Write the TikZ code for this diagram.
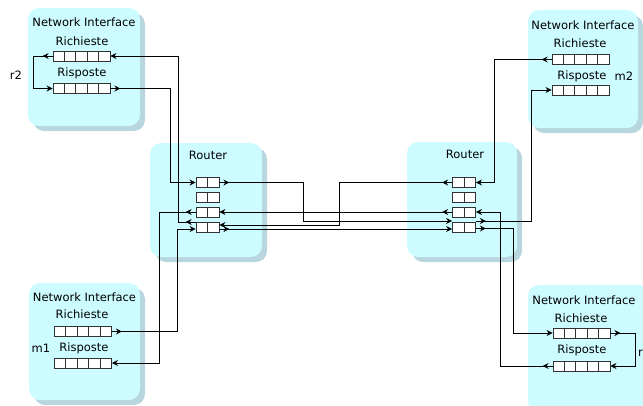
\documentclass[tikz,border=0pt]{standalone}
\usepackage{fontspec}
\setmainfont{DejaVu Sans}
\usetikzlibrary{arrows.meta,decorations.markings,calc,shadows}
\definecolor{boxfill}{RGB}{204,252,255}
\definecolor{boxshadow}{RGB}{184,214,222}
\definecolor{qline}{RGB}{50,50,50}
\begin{document}
\begin{tikzpicture}[x=1pt,y=-1pt,
  panel/.style={fill=boxfill, draw=none, rounded corners=11pt, inner sep=0pt,
    drop shadow={shadow xshift=5pt, shadow yshift=-5pt, fill=boxshadow, opacity=1}},
  lbl/.style={font=\fontsize{11.5}{13}\selectfont, inner sep=0pt},
  niq/.style={draw=qline, fill=white, line width=0.9pt, minimum width=57pt, minimum height=10pt, inner sep=0pt,
    path picture={\foreach \k in {1,2,3,4}{\draw[qline,line width=0.9pt]
      ($(path picture bounding box.south west)!\k/5!(path picture bounding box.south east)$) -- ++(0,20pt);}}},
  rtq/.style={draw=qline, fill=white, line width=0.9pt, minimum width=23pt, minimum height=10pt, inner sep=0pt,
    path picture={\draw[qline,line width=0.9pt]
      (path picture bounding box.south) -- (path picture bounding box.north);}},
  conn/.style={draw=black, line width=0.9pt, -{Stealth[length=6pt,width=6pt]}},
  outarr/.style={postaction={decorate, decoration={markings,
      mark=at position #1 with {\arrow{Stealth[length=6pt,width=6pt]}}}}},
  outarr/.default=10pt
]
\useasboundingbox (0,0) rectangle (643,405);
\clip (0,0) rectangle (643,405);

% panels
\node[panel, minimum width=112pt, minimum height=118pt] (tl) at (84,67) {};
\node[panel, minimum width=112pt, minimum height=114pt] (lr) at (206,200) {};
\node[panel, minimum width=110pt, minimum height=115pt] (rr) at (462,199.5) {};
\node[panel, minimum width=110pt, minimum height=118pt] (tr) at (583,69) {};
\node[panel, minimum width=111pt, minimum height=117pt] (bl) at (84.5,341.5) {};
\node[panel, minimum width=127pt, minimum height=127pt] (br) at (591.5,348.5) {};

% texts
\node[lbl] (tlt) at (84,22) {Network Interface};
\node[lbl] (tlrql) at (82,41) {Richieste};
\node[lbl] (tlrsl) at (82,73) {Risposte};
\node[lbl] (r2) at (16,75) {r2};

\node[lbl] (trt) at (583,25) {Network Interface};
\node[lbl] (trrql) at (580,43) {Richieste};
\node[lbl] (trrsl) at (582,76) {Risposte};
\node[lbl] (m2) at (624,76) {m2};

\node[lbl] (blt) at (84.5,297) {Network Interface};
\node[lbl] (blrql) at (82,314) {Richieste};
\node[lbl] (m1) at (41,348) {m1};
\node[lbl] (blrsl) at (84,348) {Risposte};

\node[lbl] (brt) at (584,300) {Network Interface};
\node[lbl] (brrql) at (581,318) {Richieste};
\node[lbl] (brrsl) at (582,350) {Risposte};
\node[lbl, anchor=west] (r1) at (638,352) {r1};

\node[lbl] (lrt) at (208,155) {Router};
\node[lbl] (rrt) at (465,154) {Router};

% queues
\node[niq] (tlrq) at (81.5,56) {};
\node[niq] (tlrs) at (81.5,88.5) {};
\node[niq] (trrq) at (580.5,59.5) {};
\node[niq] (trrs) at (580.5,90) {};
\node[niq] (blrq) at (83,331.5) {};
\node[niq] (blrs) at (83,363) {};
\node[niq] (brrq) at (581.5,333) {};
\node[niq] (brrs) at (581.5,366) {};

\node[rtq] (lr1) at (207.5,182.5) {};
\node[rtq] (lr2) at (207.5,197.5) {};
\node[rtq] (lr3) at (207.5,212) {};
\node[rtq] (lr4) at (207.5,227) {};
\node[rtq] (rr1) at (464,182.5) {};
\node[rtq] (rr2) at (464,197.5) {};
\node[rtq] (rr3) at (464,212) {};
\node[rtq] (rr4) at (464,227) {};

% connectors: top-left interface
\draw[conn, outarr] (tlrq.west) -- ++(-19,0) |- (tlrs.west);
\draw[conn, outarr] (tlrs.east) -| ([xshift=-25pt]lr1.west) -- (lr1.west);
\draw[conn, outarr] ([yshift=5pt]lr4.west) -| ([xshift=68pt]tlrq.east) -- (tlrq.east);

% between routers
\draw[conn, outarr] (lr1.east) -- ++(84,0) |- ([yshift=6pt]rr4.west);
\draw[conn, outarr] (rr1.west) -- ++(-113,0) |- ([yshift=2pt]lr4.east);
\draw[conn, outarr] (rr3.west) -- (lr3.east);
\draw[conn, outarr] ([yshift=-2pt]lr4.east) -- ([yshift=-2pt]rr4.west);

% bottom-left interface
\draw[conn, outarr] (lr3.west) -| ([xshift=47pt]blrs.east) -- (blrs.east);
\draw[conn, outarr] (blrq.east) -| ([xshift=-18pt,yshift=-2pt]lr4.west) -- ([yshift=-2pt]lr4.west);

% top-right interface
\draw[conn, outarr] (trrq.west) -| ([xshift=18pt]rr1.east) -- (rr1.east);
\draw[conn, outarr] ([yshift=6pt]rr4.east) -| ([xshift=-20pt]trrs.west) -- (trrs.west);

% bottom-right interface
\draw[conn, outarr] (brrs.west) -| ([xshift=24pt]rr3.east) -- (rr3.east);
\draw[conn, outarr] ([yshift=-1.5pt]rr4.east) -| ([xshift=-39pt]brrq.west) -- (brrq.west);
\draw[conn, outarr] (brrq.east) -- ++(25,0) |- (brrs.east);
\end{tikzpicture}
\end{document}
